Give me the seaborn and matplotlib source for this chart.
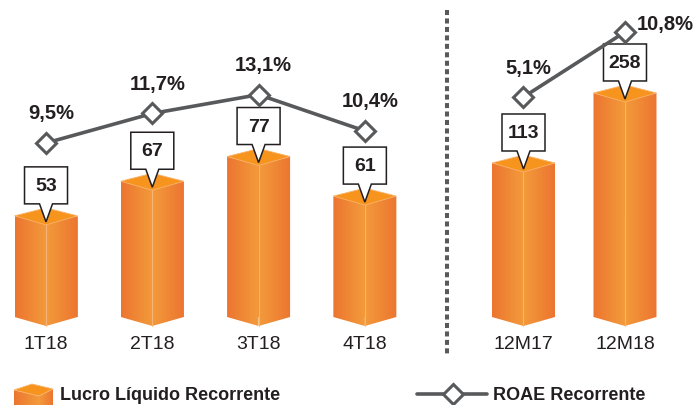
import numpy as np
import matplotlib
matplotlib.use("Agg")
import matplotlib.pyplot as plt
from matplotlib.patches import Polygon
from matplotlib.colors import LinearSegmentedColormap
import seaborn as sns

# Data
quarters = ["1T18", "2T18", "3T18", "4T18"]
lucro_tri = [53, 67, 77, 61]
roae_tri = [9.5, 11.7, 13.1, 10.4]

years = ["12M17", "12M18"]
lucro_ano = [113, 258]
roae_ano = [5.1, 10.8]

sns.set_style("white")
plt.rcParams["font.family"] = ["Liberation Sans", "DejaVu Sans"]

W, H = 695, 405
GRAY = "#58595B"
TXT = "#231F20"
side_cmap = LinearSegmentedColormap.from_list("side", ["#EC7530", "#F39B3B"])

fig = plt.figure(figsize=(W / 100, H / 100), dpi=100)


def px_axes(x0, x1, y0, y1):
    # pixel box (origin top-left) -> figure fraction
    return fig.add_axes([x0 / W, 1 - y1 / H, (x1 - x0) / W, (y1 - y0) / H])


ax_l = px_axes(0, 440, 0, 317)
ax_r = px_axes(455, 695, 0, 317)
# overlay in pixel coordinates for the 3D dressing
ov = px_axes(0, W, 0, H)
ov.set_zorder(2)
ov.patch.set_visible(False)
ov.axis("off")
ov.set_xlim(0, W)
ov.set_ylim(H, 0)
ov.set_autoscale_on(False)


def grad_face(verts, reverse=False):
    poly = Polygon(verts, closed=True, fc="none", ec="none")
    ov.add_patch(poly)
    g = np.linspace(0, 1, 64)[None, :]
    if reverse:
        g = g[:, ::-1]
    xs = [v[0] for v in verts]
    ys = [v[1] for v in verts]
    im = ov.imshow(g, cmap=side_cmap, vmin=0, vmax=1, aspect="auto",
                   interpolation="bilinear",
                   extent=(min(xs), max(xs), max(ys), min(ys)))
    im.set_clip_path(poly)


def prism(xl, xr, ytop, ybot, dz=9):
    xc = (xl + xr) / 2
    grad_face([(xl, ytop), (xc, ytop + dz), (xc, ybot + dz), (xl, ybot)])
    grad_face([(xc, ytop + dz), (xr, ytop), (xr, ybot), (xc, ybot + dz)], reverse=True)
    ov.add_patch(Polygon([(xl, ytop), (xc, ytop - dz + 1), (xr, ytop), (xc, ytop + dz)],
                         closed=True, fc="#F7941E", ec="#F9B46E", lw=0.6))
    ov.plot([xc, xc], [ytop + dz, ybot + dz], color="#F8B57A", lw=0.7)


def callout(xc, yfront, text):
    bw, bh = 43, 37
    yb = yfront - 21
    yt = yb - bh
    tip = yfront - 3
    verts = [(xc - bw / 2, yt), (xc + bw / 2, yt), (xc + bw / 2, yb), (xc + 6.5, yb),
             (xc, tip), (xc - 6.5, yb), (xc - bw / 2, yb)]
    ov.add_patch(Polygon(verts, closed=True, fc="white", ec=TXT, lw=1.1, joinstyle="miter"))
    ov.text(xc, (yt + yb) / 2 + 1, text, ha="center", va="center", fontsize=14,
            fontweight="bold", color=TXT)


def panel(ax, cats, vals, roae, xlim, bar_ylim, line_ylim, bar_w, last_offset=None):
    sns.barplot(x=cats, y=vals, ax=ax, color="#F08A33", saturation=1, width=bar_w)
    tw = ax.twinx()
    tw.set_zorder(3)
    sns.lineplot(x=np.arange(len(roae)), y=roae, ax=tw, color=GRAY, lw=2.6,
                 marker="D", markersize=10, markerfacecolor="white",
                 markeredgecolor=GRAY, markeredgewidth=2.2)
    ax.set_xlim(*xlim)
    ax.set_ylim(*bar_ylim)
    tw.set_ylim(*line_ylim)
    ax.set_xlabel("")
    ax.set_ylabel("")
    ax.set_yticks([])
    tw.set_yticks([])
    tw.set_ylabel("")
    ax.tick_params(axis="x", length=0, pad=14, labelsize=14, labelcolor=TXT)
    for a in (ax, tw):
        for s in a.spines.values():
            s.set_visible(False)

    for i, v in enumerate(roae):
        off = (5, 29)
        if last_offset is not None and i == len(roae) - 1:
            off = last_offset
        tw.annotate(f"{v:.1f}%".replace(".", ","), (i, v), xytext=off,
                    textcoords="offset pixels", ha="center", va="center",
                    fontsize=14.5, fontweight="bold", color=TXT)

    # dress each seaborn bar as a 3D prism
    inv = ov.transData.inverted()
    ybot = inv.transform(ax.transAxes.transform((0, 0)))[1]
    for bar, v in zip(ax.patches, vals):
        x0 = bar.get_x()
        x1 = x0 + bar.get_width()
        (pl, pt) = inv.transform(ax.transData.transform((x0, v)))
        (pr, _) = inv.transform(ax.transData.transform((x1, v)))
        prism(pl, pr, pt, ybot)
        callout((pl + pr) / 2, pt + 9, str(v))


panel(ax_l, quarters, lucro_tri, roae_tri,
      xlim=(-0.433, 3.707), bar_ylim=(12.1, 140.3), line_ylim=(-3.46, 20.15),
      bar_w=63 / 106.3)
panel(ax_r, years, lucro_ano, roae_ano,
      xlim=(-0.675, 1.690), bar_ylim=(-206, 450.6), line_ylim=(-14.2, 13.61),
      bar_w=63 / 101.5, last_offset=(40, 8))

# divider
ov.plot([447, 447], [10, 355], color=GRAY, lw=2.9, dashes=(1.25, 0.85))

# legend
grad_face([(14, 390), (39, 396), (39, 412), (14, 412)])
grad_face([(39, 396), (53, 389), (53, 412), (39, 412)], reverse=True)
ov.add_patch(Polygon([(14, 390), (32, 384), (53, 389), (39, 396)], closed=True,
                     fc="#F7941E", ec="#F9B46E", lw=0.6))
ov.text(60, 400.5, "Lucro Líquido Recorrente", fontsize=13, fontweight="bold",
        color=TXT, va="baseline", ha="left")
ov.plot([417, 487], [394, 394], color=GRAY, lw=2.6)
ov.plot([453], [394], marker="D", ms=10, mfc="white", mec=GRAY, mew=2.2)
ov.text(493, 400.5, "ROAE Recorrente", fontsize=13, fontweight="bold",
        color=TXT, va="baseline", ha="left")

ov.set_xlim(0, W)
ov.set_ylim(H, 0)

fig.savefig("out.png", dpi=100)
